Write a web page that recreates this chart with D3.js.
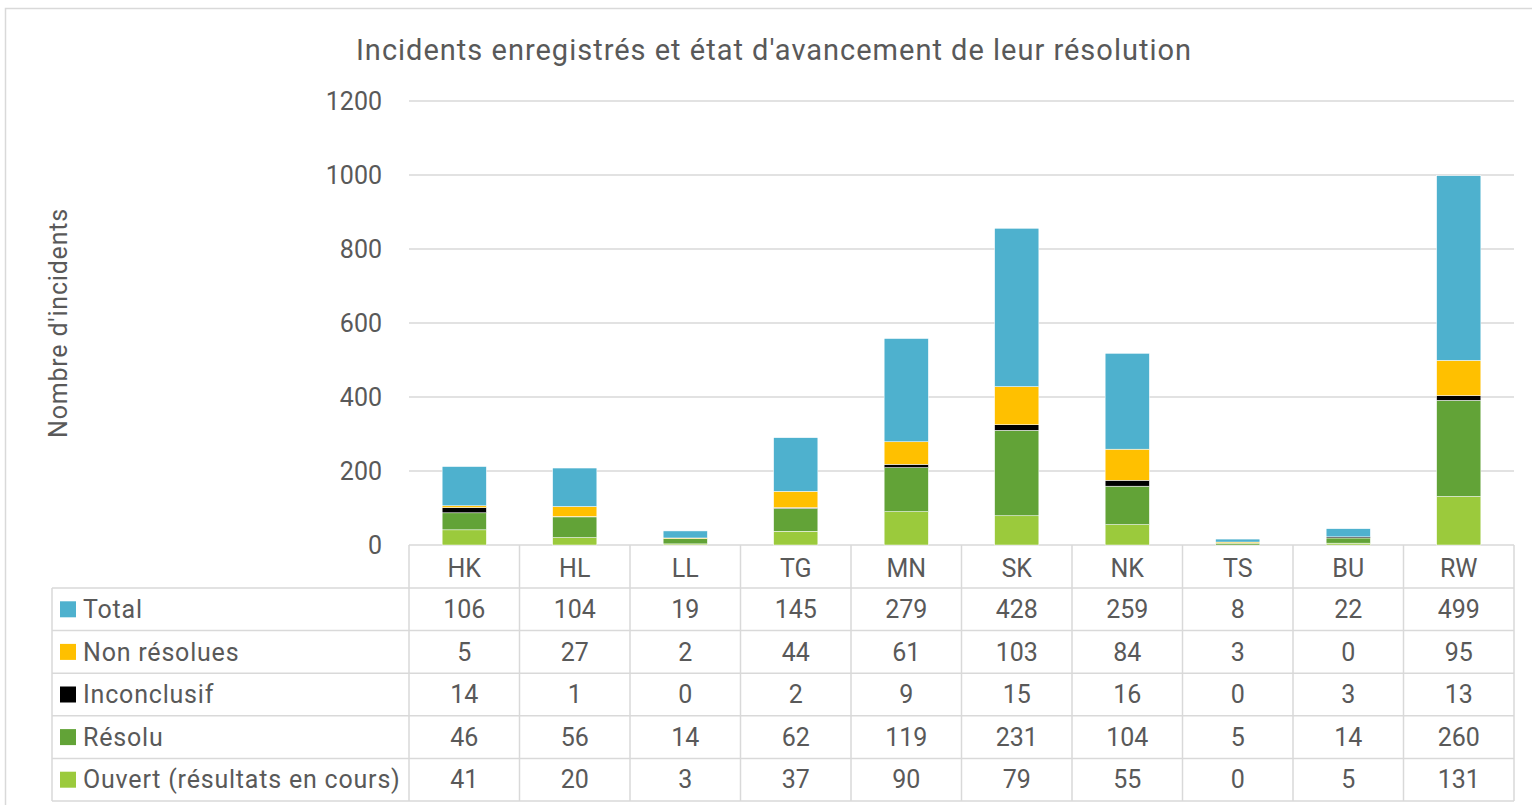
<!DOCTYPE html>
<html>
<head>
<meta charset="utf-8">
<script src="https://cdn.jsdelivr.net/npm/d3@7"></script>
<style>
  body { margin: 0; background: #fff; }
  svg { font-family: Roboto, "Open Sans", sans-serif; }
</style>
</head>
<body>
<svg width="1532" height="805"></svg>
<script>
// data
const categories = ["HK", "HL", "LL", "TG", "MN", "SK", "NK", "TS", "BU", "RW"];
const seriesNames = ["Total", "Non résolues", "Inconclusif", "Résolu", "Ouvert (résultats en cours)"];
const total = [106, 104, 19, 145, 279, 428, 259, 8, 22, 499];
const nonResolues = [5, 27, 2, 44, 61, 103, 84, 3, 0, 95];
const inconclusif = [14, 1, 0, 2, 9, 15, 16, 0, 3, 13];
const resolu = [46, 56, 14, 62, 119, 231, 104, 5, 14, 260];
const ouvert = [41, 20, 3, 37, 90, 79, 55, 0, 5, 131];
const yTicks = [0, 200, 400, 600, 800, 1000, 1200];
const colors = ["#4EB1CE", "#FFC000", "#000000", "#62A337", "#9BCA3C"];

const svg = d3.select("svg");
const textColor = "#595959";
const lineColor = "#d9d9d9";
const fs = 25, ls = 0.8;

// outer frame
svg.append("rect")
    .attr("x", 5.5).attr("y", 8.5)
    .attr("width", 1540).attr("height", 820)
    .attr("fill", "none").attr("stroke", lineColor).attr("stroke-width", 1.5);

const plotLeft = 409, plotRight = 1514, plotTop = 101, plotBottom = 545;

const x = d3.scaleBand().domain(categories).range([plotLeft, plotRight]).paddingInner(0).paddingOuter(0);
const y = d3.scaleLinear().domain([0, 1200]).range([plotBottom, plotTop]);

// gridlines
svg.append("g").selectAll("line")
    .data(yTicks)
    .join("line")
    .attr("x1", plotLeft).attr("x2", plotRight)
    .attr("y1", d => y(d)).attr("y2", d => y(d))
    .attr("stroke", lineColor).attr("stroke-width", 1.5);

// y labels
svg.append("g").selectAll("text")
    .data(yTicks)
    .join("text")
    .attr("x", 382).attr("y", d => y(d))
    .attr("dy", "0.35em")
    .attr("text-anchor", "end")
    .attr("fill", textColor)
    .attr("font-size", fs)
    .text(d => d);

// stacked bars, bottom to top
const rows = categories.map((c, i) => ({
    cat: c,
    "Ouvert (résultats en cours)": ouvert[i],
    "Résolu": resolu[i],
    "Inconclusif": inconclusif[i],
    "Non résolues": nonResolues[i],
    "Total": total[i]
}));
const stackKeys = seriesNames.slice().reverse();
const stack = d3.stack().keys(stackKeys)(rows);
const color = d3.scaleOrdinal().domain(seriesNames).range(colors);
const barW = x.bandwidth() * 0.4;

svg.append("g").selectAll("g")
    .data(stack)
    .join("g")
    .attr("fill", d => color(d.key))
    .selectAll("rect")
    .data(d => d)
    .join("rect")
    .attr("x", d => x(d.data.cat) + (x.bandwidth() - barW) / 2)
    .attr("width", barW)
    .attr("y", d => y(d[1]))
    .attr("height", d => y(d[0]) - y(d[1]))
    .attr("stroke", "#fff")
    .attr("stroke-width", 0.5);

// data table
const rowH = 42.6;
const tableLeft = 52;
const headerBottom = 588;
const tbl = svg.append("g");

// header row (categories)
tbl.selectAll(".hdr")
    .data(categories)
    .join("text")
    .attr("x", d => x(d) + x.bandwidth() / 2)
    .attr("y", plotBottom + 23)
    .attr("dy", "0.35em")
    .attr("text-anchor", "middle")
    .attr("fill", textColor)
    .attr("font-size", fs)
    .text(d => d);

const values = [total, nonResolues, inconclusif, resolu, ouvert];

seriesNames.forEach((name, r) => {
    const yMid = headerBottom + rowH * r + rowH / 2;
    tbl.append("rect")
        .attr("x", 60).attr("y", yMid - 8)
        .attr("width", 16).attr("height", 16)
        .attr("fill", colors[r]);
    tbl.append("text")
        .attr("x", 83).attr("y", yMid)
        .attr("dy", "0.35em")
        .attr("fill", textColor)
        .attr("font-size", fs)
        .attr("letter-spacing", ls)
        .text(name);
    tbl.selectAll(null)
        .data(values[r])
        .join("text")
        .attr("x", (d, i) => x(categories[i]) + x.bandwidth() / 2)
        .attr("y", yMid)
        .attr("dy", "0.35em")
        .attr("text-anchor", "middle")
        .attr("fill", textColor)
        .attr("font-size", fs)
        .text(d => d);
});

// table lines
const tableBottom = headerBottom + rowH * 5;
const hLines = d3.range(6).map(i => headerBottom + rowH * i);
tbl.selectAll(".hl")
    .data(hLines)
    .join("line")
    .attr("x1", tableLeft).attr("x2", plotRight)
    .attr("y1", d => d).attr("y2", d => d)
    .attr("stroke", lineColor).attr("stroke-width", 1.5);
tbl.append("line")
    .attr("x1", tableLeft).attr("x2", tableLeft)
    .attr("y1", headerBottom).attr("y2", tableBottom)
    .attr("stroke", lineColor).attr("stroke-width", 1.5);
const vLines = categories.map(c => x(c)).concat([plotRight]);
tbl.selectAll(".vl")
    .data(vLines)
    .join("line")
    .attr("x1", d => d).attr("x2", d => d)
    .attr("y1", plotBottom).attr("y2", tableBottom)
    .attr("stroke", lineColor).attr("stroke-width", 1.5);

// title
svg.append("text")
    .attr("x", 774).attr("y", 50)
    .attr("dy", "0.35em")
    .attr("text-anchor", "middle")
    .attr("fill", textColor)
    .attr("font-size", 29)
    .attr("letter-spacing", 1)
    .text("Incidents enregistrés et état d'avancement de leur résolution");

// y axis title
svg.append("text")
    .attr("transform", "translate(58,323) rotate(-90)")
    .attr("dy", "0.35em")
    .attr("text-anchor", "middle")
    .attr("fill", textColor)
    .attr("font-size", fs)
    .attr("letter-spacing", ls)
    .text("Nombre d'incidents");
</script>
</body>
</html>
